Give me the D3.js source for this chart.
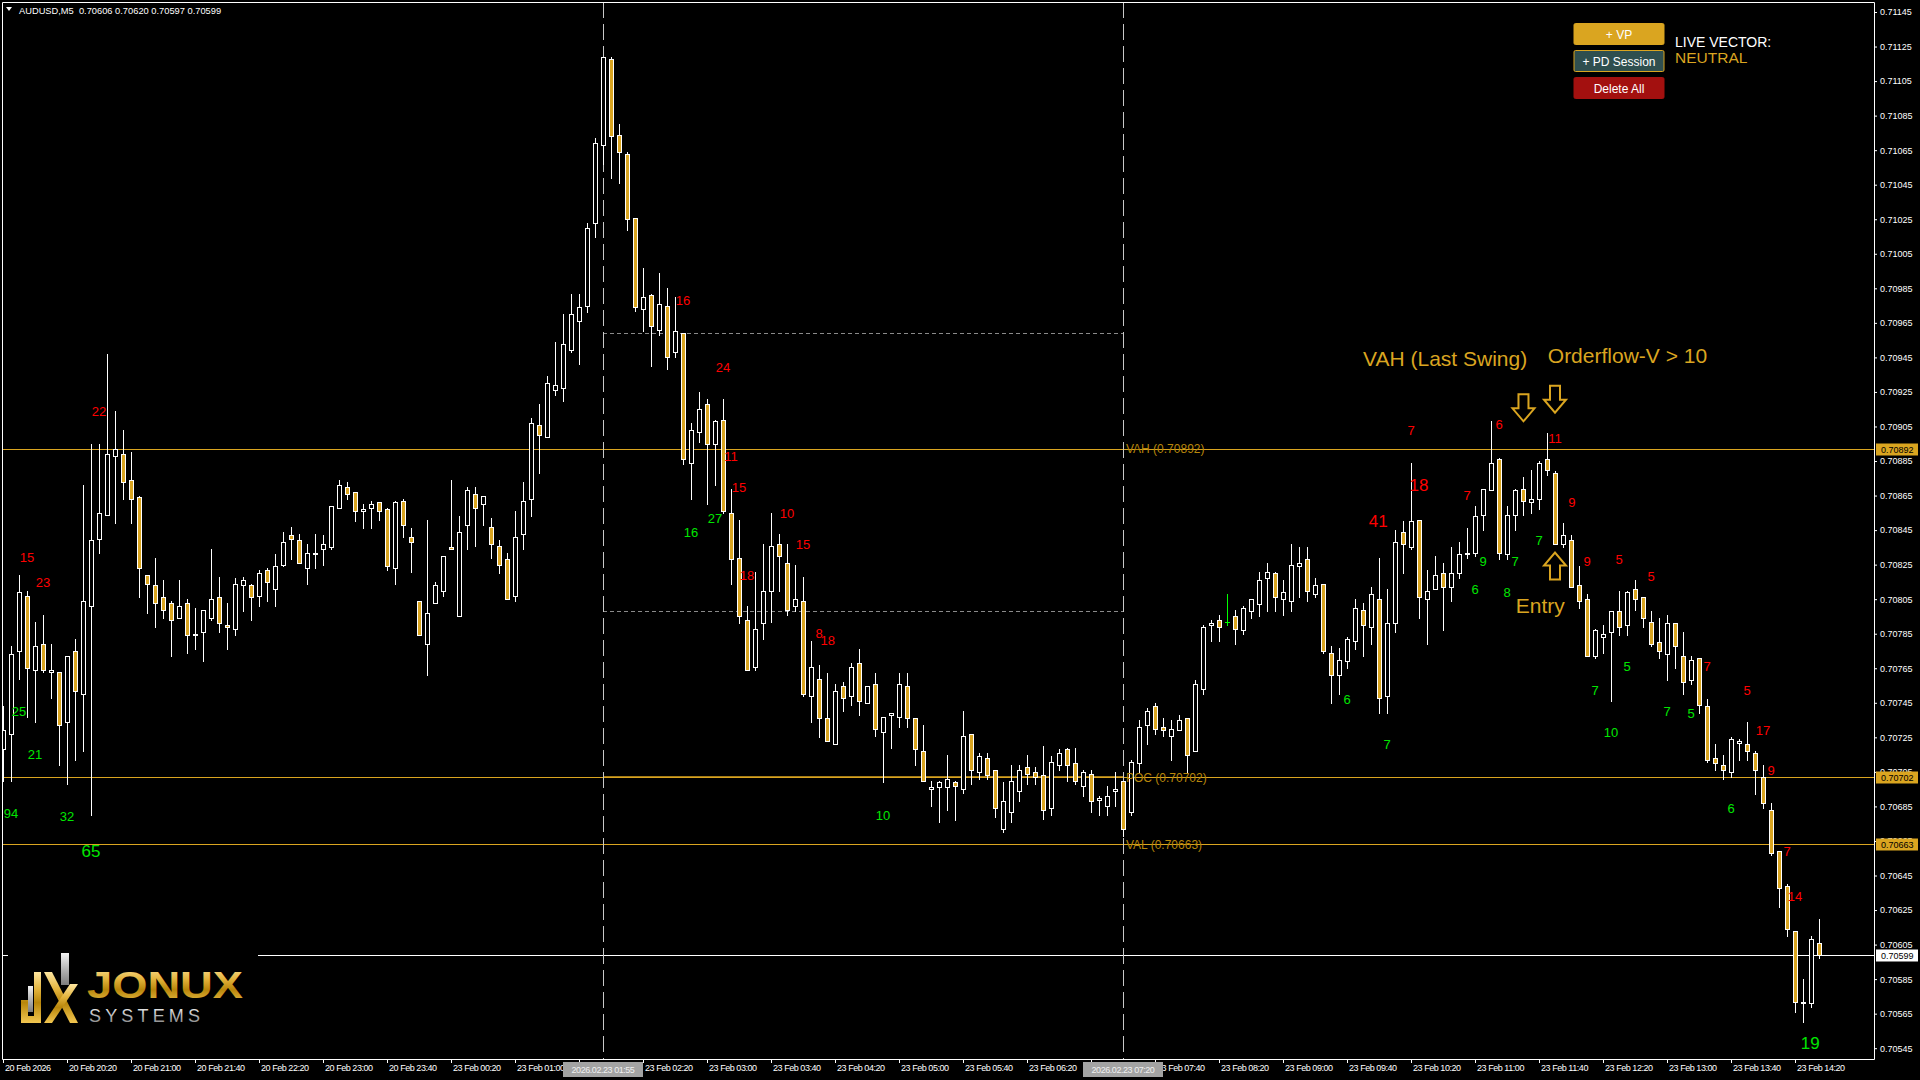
<!DOCTYPE html>
<html><head><meta charset="utf-8">
<script src="https://cdn.jsdelivr.net/npm/d3@7"></script>
<style>
html,body{margin:0;padding:0;background:#000;overflow:hidden}
text{font-family:"Liberation Sans",Arial,sans-serif}
</style>
</head><body>
<svg id="c" width="1920" height="1080"></svg>
<script>
// ---------------- DATA ----------------
const symbol = "AUDUSD,M5";
const opens = [
0.70718,0.70727,0.70775,0.70807,0.70764,0.70779,0.70763,0.70763,0.70734,0.70775,
0.70750,0.70801,0.70840,0.70854,0.70888,0.70889,0.70874,0.70864,0.70819,0.70813,
0.70806,0.70803,0.70794,0.70803,0.70784,0.70786,0.70794,0.70806,0.70790,0.70788,
0.70813,0.70813,0.70807,0.70822,0.70811,0.70825,0.70842,0.70839,0.70823,0.70831,
0.70834,0.70835,0.70858,0.70870,0.70867,0.70856,0.70858,0.70861,0.70857,0.70823,
0.70862,0.70841,0.70804,0.70779,0.70803,0.70810,0.70835,0.70795,0.70848,0.70866,
0.70860,0.70847,0.70836,0.70828,0.70807,0.70843,0.70863,0.70906,0.70899,0.70926,
0.70927,0.70949,0.70966,0.70975,0.71023,0.71068,0.71118,0.71074,0.71063,0.71026,
0.70973,0.70981,0.70961,0.70975,0.70948,0.70959,0.70884,0.70902,0.70918,0.70895,
0.70909,0.70855,0.70829,0.70793,0.70766,0.70791,0.70810,0.70837,0.70826,0.70801,
0.70804,0.70749,0.70759,0.70736,0.70721,0.70755,0.70749,0.70768,0.70745,0.70756,
0.70728,0.70738,0.70737,0.70755,0.70736,0.70717,0.70695,0.70696,0.70696,0.70699,
0.70695,0.70727,0.70705,0.70713,0.70706,0.70672,0.70682,0.70694,0.70708,0.70705,
0.70703,0.70684,0.70709,0.70718,0.70710,0.70697,0.70704,0.70689,0.70685,0.70694,
0.70700,0.70682,0.70710,0.70732,0.70743,0.70731,0.70726,0.70729,0.70736,0.70717,
0.70753,0.70790,0.70793,0.70792,0.70795,0.70787,0.70798,0.70802,0.70817,0.70820,
0.70805,0.70804,0.70824,0.70828,0.70808,0.70814,0.70774,0.70761,0.70769,0.70781,
0.70799,0.70789,0.70805,0.70749,0.70791,0.70844,0.70835,0.70851,0.70805,0.70811,
0.70820,0.70812,0.70820,0.70831,0.70832,0.70854,0.70868,0.70886,0.70831,0.70854,
0.70869,0.70861,0.70863,0.70886,0.70878,0.70837,0.70839,0.70813,0.70805,0.70772,
0.70783,0.70786,0.70798,0.70790,0.70811,0.70806,0.70792,0.70780,0.70773,0.70791,
0.70772,0.70758,0.70771,0.70743,0.70713,0.70709,0.70705,0.70722,0.70721,0.70716,
0.70702,0.70683,0.70659,0.70639,0.70613,0.70571,0.70571,0.70606];
const highs = [
0.70743,0.70778,0.70819,0.70810,0.70792,0.70796,0.70779,0.70763,0.70772,0.70782,
0.70871,0.70895,0.70895,0.70947,0.70914,0.70903,0.70890,0.70865,0.70819,0.70829,
0.70816,0.70804,0.70816,0.70805,0.70800,0.70799,0.70834,0.70818,0.70803,0.70817,
0.70818,0.70814,0.70822,0.70823,0.70831,0.70844,0.70847,0.70843,0.70837,0.70843,
0.70842,0.70859,0.70874,0.70873,0.70867,0.70860,0.70862,0.70861,0.70858,0.70862,
0.70863,0.70846,0.70804,0.70851,0.70815,0.70830,0.70874,0.70853,0.70870,0.70870,
0.70865,0.70852,0.70839,0.70832,0.70856,0.70873,0.70910,0.70918,0.70934,0.70954,
0.70970,0.70982,0.70982,0.71023,0.71072,0.71119,0.71119,0.71080,0.71064,0.71026,
0.70997,0.70982,0.70994,0.70985,0.70980,0.70959,0.70907,0.70925,0.70921,0.70909,
0.70921,0.70869,0.70851,0.70801,0.70821,0.70837,0.70855,0.70843,0.70837,0.70825,
0.70818,0.70781,0.70767,0.70762,0.70756,0.70757,0.70768,0.70776,0.70755,0.70762,
0.70737,0.70739,0.70762,0.70762,0.70736,0.70732,0.70700,0.70700,0.70715,0.70700,
0.70740,0.70727,0.70716,0.70716,0.70706,0.70699,0.70709,0.70709,0.70715,0.70708,
0.70720,0.70714,0.70718,0.70719,0.70719,0.70706,0.70706,0.70691,0.70697,0.70705,
0.70700,0.70712,0.70735,0.70742,0.70745,0.70736,0.70735,0.70738,0.70736,0.70758,
0.70790,0.70793,0.70796,0.70808,0.70799,0.70801,0.70805,0.70821,0.70826,0.70821,
0.70816,0.70837,0.70835,0.70835,0.70817,0.70814,0.70778,0.70777,0.70783,0.70805,
0.70803,0.70812,0.70829,0.70811,0.70845,0.70850,0.70884,0.70851,0.70822,0.70830,
0.70826,0.70835,0.70838,0.70846,0.70859,0.70869,0.70908,0.70887,0.70859,0.70869,
0.70876,0.70880,0.70885,0.70901,0.70879,0.70849,0.70842,0.70824,0.70808,0.70788,
0.70790,0.70798,0.70810,0.70810,0.70816,0.70806,0.70798,0.70794,0.70796,0.70791,
0.70786,0.70772,0.70771,0.70747,0.70721,0.70715,0.70725,0.70724,0.70734,0.70717,
0.70709,0.70687,0.70659,0.70640,0.70613,0.70585,0.70610,0.70620];
const lows = [
0.70700,0.70700,0.70759,0.70737,0.70734,0.70763,0.70748,0.70709,0.70698,0.70712,
0.70717,0.70680,0.70832,0.70854,0.70849,0.70863,0.70849,0.70806,0.70797,0.70789,
0.70794,0.70772,0.70794,0.70774,0.70776,0.70769,0.70793,0.70786,0.70776,0.70784,
0.70798,0.70793,0.70801,0.70804,0.70801,0.70824,0.70828,0.70826,0.70814,0.70823,
0.70825,0.70834,0.70858,0.70863,0.70850,0.70846,0.70846,0.70851,0.70822,0.70814,
0.70841,0.70821,0.70784,0.70761,0.70803,0.70807,0.70834,0.70795,0.70834,0.70836,
0.70848,0.70829,0.70820,0.70805,0.70804,0.70834,0.70853,0.70878,0.70899,0.70923,
0.70920,0.70948,0.70941,0.70971,0.71015,0.71057,0.71049,0.71046,0.71019,0.70972,
0.70960,0.70940,0.70958,0.70938,0.70945,0.70883,0.70863,0.70896,0.70860,0.70871,
0.70855,0.70814,0.70791,0.70764,0.70764,0.70782,0.70792,0.70810,0.70796,0.70798,
0.70749,0.70734,0.70725,0.70723,0.70721,0.70740,0.70744,0.70738,0.70745,0.70726,
0.70699,0.70719,0.70731,0.70731,0.70709,0.70700,0.70685,0.70676,0.70683,0.70677,
0.70693,0.70698,0.70701,0.70701,0.70679,0.70670,0.70676,0.70688,0.70698,0.70698,
0.70678,0.70680,0.70706,0.70700,0.70698,0.70691,0.70682,0.70680,0.70680,0.70685,
0.70668,0.70680,0.70705,0.70721,0.70727,0.70726,0.70712,0.70729,0.70705,0.70717,
0.70750,0.70781,0.70781,0.70790,0.70779,0.70785,0.70794,0.70795,0.70798,0.70798,
0.70796,0.70798,0.70806,0.70804,0.70806,0.70774,0.70745,0.70750,0.70765,0.70776,
0.70772,0.70779,0.70739,0.70739,0.70786,0.70820,0.70834,0.70794,0.70779,0.70811,
0.70787,0.70804,0.70817,0.70829,0.70830,0.70845,0.70868,0.70828,0.70828,0.70845,
0.70854,0.70855,0.70857,0.70877,0.70837,0.70835,0.70812,0.70800,0.70772,0.70771,
0.70774,0.70746,0.70784,0.70784,0.70799,0.70789,0.70778,0.70771,0.70758,0.70765,
0.70750,0.70756,0.70739,0.70711,0.70706,0.70701,0.70702,0.70712,0.70712,0.70692,
0.70684,0.70657,0.70627,0.70610,0.70566,0.70560,0.70569,0.70597];
const closes = [
0.70729,0.70773,0.70809,0.70765,0.70778,0.70764,0.70764,0.70732,0.70772,0.70752,
0.70804,0.70839,0.70855,0.70889,0.70892,0.70873,0.70863,0.70823,0.70814,0.70803,
0.70799,0.70793,0.70801,0.70784,0.70785,0.70799,0.70805,0.70791,0.70789,0.70814,
0.70816,0.70806,0.70820,0.70815,0.70824,0.70838,0.70840,0.70826,0.70832,0.70832,
0.70837,0.70859,0.70871,0.70866,0.70856,0.70857,0.70860,0.70856,0.70824,0.70861,
0.70848,0.70838,0.70784,0.70797,0.70813,0.70830,0.70834,0.70844,0.70868,0.70858,
0.70865,0.70837,0.70825,0.70805,0.70841,0.70862,0.70907,0.70900,0.70930,0.70929,
0.70953,0.70970,0.70974,0.71020,0.71069,0.71119,0.71073,0.71064,0.71025,0.70974,
0.70980,0.70963,0.70976,0.70945,0.70960,0.70886,0.70903,0.70915,0.70895,0.70908,
0.70856,0.70828,0.70795,0.70764,0.70788,0.70810,0.70836,0.70830,0.70799,0.70805,
0.70750,0.70766,0.70736,0.70723,0.70752,0.70748,0.70766,0.70746,0.70755,0.70730,
0.70737,0.70739,0.70756,0.70736,0.70718,0.70700,0.70696,0.70699,0.70701,0.70697,
0.70726,0.70706,0.70714,0.70703,0.70684,0.70688,0.70700,0.70706,0.70704,0.70702,
0.70683,0.70711,0.70716,0.70709,0.70700,0.70705,0.70688,0.70690,0.70691,0.70695,
0.70672,0.70711,0.70731,0.70740,0.70730,0.70729,0.70730,0.70735,0.70715,0.70756,
0.70789,0.70791,0.70789,0.70792,0.70788,0.70800,0.70805,0.70816,0.70821,0.70806,
0.70809,0.70825,0.70826,0.70810,0.70813,0.70775,0.70761,0.70770,0.70782,0.70800,
0.70790,0.70808,0.70748,0.70791,0.70838,0.70837,0.70850,0.70806,0.70810,0.70819,
0.70812,0.70820,0.70831,0.70832,0.70853,0.70869,0.70884,0.70832,0.70854,0.70868,
0.70862,0.70863,0.70884,0.70880,0.70837,0.70842,0.70812,0.70804,0.70772,0.70787,
0.70785,0.70798,0.70789,0.70809,0.70805,0.70794,0.70779,0.70775,0.70791,0.70778,
0.70757,0.70770,0.70744,0.70712,0.70710,0.70706,0.70724,0.70723,0.70717,0.70706,
0.70687,0.70658,0.70638,0.70614,0.70572,0.70572,0.70608,0.70599];

// time axis: labelled bars (every 8th M5 bar) and their labels
const xTickBars = [0,8,16,24,32,40,48,56,64,72,80,88,96,104,112,120,128,136,144,152,160,168,176,184,192,200,208,216,224];
const xTickLabels = ["20 Feb 2026","20 Feb 20:20","20 Feb 21:00","20 Feb 21:40","20 Feb 22:20","20 Feb 23:00","20 Feb 23:40",
 "23 Feb 00:20","23 Feb 01:00","23 Feb 01:40","23 Feb 02:20","23 Feb 03:00","23 Feb 03:40","23 Feb 04:20","23 Feb 05:00",
 "23 Feb 05:40","23 Feb 06:20","23 Feb 07:00","23 Feb 07:40","23 Feb 08:20","23 Feb 09:00","23 Feb 09:40","23 Feb 10:20",
 "23 Feb 11:00","23 Feb 11:40","23 Feb 12:20","23 Feb 13:00","23 Feb 13:40","23 Feb 14:20"];
// price axis tick values
const yTickValues = [0.71145,0.71125,0.71105,0.71085,0.71065,0.71045,0.71025,0.71005,0.70985,0.70965,0.70945,
 0.70925,0.70905,0.70885,0.70865,0.70845,0.70825,0.70805,0.70785,0.70765,0.70745,0.70725,0.70705,0.70685,
 0.70665,0.70645,0.70625,0.70605,0.70585,0.70565,0.70545];
const priceDomain = [0.70545, 0.71145];

// volume profile session (vertical markers) and levels
const sessionBars = [75, 140];
const sessionLabels = ["2026.02.23 01:55","2026.02.23 07:20"];
const sessionRangeLevels = [0.70959, 0.70798];
const vaNames = ["VAH","POC","VAL"];
const vaLevels = [0.70892, 0.70702, 0.70663];

// order-flow numbers
const flowTexts = ["22","15","23","25","21","94","32","65","16","24","11","15","10","15","18","8","18","16","27","10",
 "7","18","41","6","7","6","11","7","9","9","7","7","6","8","9","5","5","5","7","10","7","7","5","5","17","9","6","7","14","19"];
const flowBars = [12,3,5,2,4,1,8,11,85,90,91,92,98,100,93,102,103.1,86,89,110,
 176,177,171.9,168,173,187,194,183,196.1,185,189,192,184,188,198,202,206,203,199,201,213,208,211,218,220,221,216,223,224,225.9];
const flowPrices = [0.70914,0.70829,0.70815,0.70740,0.70715,0.70681,0.70679,0.70659,0.70978,0.70939,0.70888,0.70870,0.70855,0.70837,0.70819,0.70785,0.70781,0.70844,0.70852,0.70680,
 0.70903,0.70871,0.70850,0.70747,0.70721,0.70906,0.70898,0.70865,0.70861,0.70827,0.70827,0.70839,0.70811,0.70809,0.70827,0.70828,0.70818,0.70766,0.70752,0.70728,
 0.70766,0.70740,0.70739,0.70752,0.70729,0.70706,0.70684,0.70659,0.70633,0.70548];
const flowSides = ["sell","sell","sell","buy","buy","buy","buy","buy","sell","sell","sell","sell","sell","sell","sell","sell","sell","buy","buy","buy",
 "sell","sell","sell","buy","buy","sell","sell","sell","sell","buy","buy","buy","buy","buy","sell","sell","sell","buy","buy","buy",
 "sell","buy","buy","sell","sell","sell","buy","sell","sell","buy"];

// annotations
const noteTexts = ["VAH (Last Swing)","Orderflow-V > 10","Entry"];
const noteBars = [170, 193.1, 189.1];
const notePrices = [0.70940, 0.70942, 0.70797];
const arrowBars = [190.06, 194, 194];
const arrowTipPrices = [0.70908, 0.70913, 0.70832];
const arrowDirs = ["down","down","up"];

const buttonLabels = ["+ VP","+ PD Session","Delete All"];
const vectorTitle = "LIVE VECTOR:";
const vectorState = "NEUTRAL";

// ---------------- DRAW ----------------
const GOLD = "#DAA520";
const svg = d3.select("#c");
const n = opens.length;
const x = d3.scaleLinear().domain([0, n - 1]).range([3, 3 + 8 * (n - 1)]);
const y = d3.scaleLinear().domain(priceDomain).range([1048.2, 12]);
const plotL = 2, plotR = 1874, plotT = 2, plotB = 1059;
const px = v => Math.round(x(v));
const py = v => Math.round(y(v));

svg.append("rect").attr("width",1920).attr("height",1080).attr("fill","#000");

const defs = svg.append("defs");
defs.append("clipPath").attr("id","plotclip").append("rect")
  .attr("x",plotL+1).attr("y",plotT+1).attr("width",plotR-plotL-1).attr("height",plotB-plotT-1);
const plot = svg.append("g").attr("clip-path","url(#plotclip)");

// session dotted range lines
plot.selectAll("line.rng").data(sessionRangeLevels).join("line")
  .attr("x1",px(sessionBars[0])).attr("x2",px(sessionBars[1]))
  .attr("y1",d=>py(d)+0.5).attr("y2",d=>py(d)+0.5)
  .attr("stroke","#8a8a8a").attr("stroke-width",1).attr("stroke-dasharray","4,3");

// value area lines
plot.selectAll("line.va").data(vaLevels).join("line")
  .attr("x1",plotL).attr("x2",plotR)
  .attr("y1",d=>py(d)+0.5).attr("y2",d=>py(d)+0.5)
  .attr("stroke",GOLD).attr("stroke-width",1);
plot.append("line").attr("x1",px(sessionBars[0])).attr("x2",px(sessionBars[1]))
  .attr("y1",py(vaLevels[1])).attr("y2",py(vaLevels[1])).attr("stroke",GOLD).attr("stroke-width",1.5);

// last price line
const lastClose = closes[n-1];
plot.append("line").attr("x1",plotL).attr("x2",plotR)
  .attr("y1",py(lastClose)+0.5).attr("y2",py(lastClose)+0.5).attr("stroke","#fff").attr("stroke-width",1);

// vertical session lines
plot.selectAll("line.ses").data(sessionBars).join("line")
  .attr("x1",d=>px(d)+0.5).attr("x2",d=>px(d)+0.5).attr("y1",plotT).attr("y2",plotB)
  .attr("stroke","#c8c8c8").attr("stroke-width",1).attr("stroke-dasharray","16,6");

// candles
const idx = d3.range(n);
const cg = plot.append("g");
cg.selectAll("line.w").data(idx).join("line")
  .attr("x1",i=>px(i)+0.5).attr("x2",i=>px(i)+0.5)
  .attr("y1",i=>py(highs[i])).attr("y2",i=>py(lows[i])+1)
  .attr("stroke",i=>opens[i]===closes[i] ? "#00ff00" : "#fff").attr("stroke-width",1);
cg.selectAll("rect.b").data(idx.filter(i=>opens[i]!==closes[i])).join("rect")
  .attr("x",i=>px(i)-1.5).attr("width",4)
  .attr("y",i=>py(Math.max(opens[i],closes[i]))+0.5)
  .attr("height",i=>Math.max(1, py(Math.min(opens[i],closes[i])) - py(Math.max(opens[i],closes[i]))))
  .attr("fill",i=>closes[i]>opens[i] ? "#000" : GOLD)
  .attr("stroke","#fff").attr("stroke-width",1);
cg.selectAll("line.d").data(idx.filter(i=>opens[i]===closes[i])).join("line")
  .attr("x1",i=>px(i)-2).attr("x2",i=>px(i)+3)
  .attr("y1",i=>py(opens[i])+0.5).attr("y2",i=>py(opens[i])+0.5)
  .attr("stroke","#00ff00").attr("stroke-width",1);

// value-area text labels
plot.selectAll("text.va").data(vaLevels).join("text")
  .attr("x",px(sessionBars[1])+3).attr("y",d=>y(d)+4.5)
  .attr("font-size",12).attr("fill","#B8860B")
  .text((d,i)=>`${vaNames[i]} (${d.toFixed(5)})`);

// order-flow numbers
const bigFlow = new Set([7,21,22,49]);
plot.selectAll("text.flow").data(flowTexts).join("text")
  .attr("x",(d,i)=>x(flowBars[i]))
  .attr("y",(d,i)=>y(flowPrices[i]) + (bigFlow.has(i)?6:4.7))
  .attr("text-anchor","middle")
  .attr("font-size",(d,i)=>bigFlow.has(i)?17:13)
  .attr("fill",(d,i)=>flowSides[i]==="sell" ? "#ff0000" : "#00e600")
  .text(d=>d);

// annotations
plot.selectAll("text.note").data(noteTexts).join("text")
  .attr("x",(d,i)=>x(noteBars[i])).attr("y",(d,i)=>y(notePrices[i]))
  .attr("font-size",21).attr("fill",GOLD).text(d=>d);
function arrowPath(tx, ty, dir){
  const s = dir==="down" ? -1 : 1;
  const pts = [[tx-5,ty+s*27],[tx+5,ty+s*27],[tx+5,ty+s*13],[tx+11,ty+s*13],[tx,ty],[tx-11,ty+s*13],[tx-5,ty+s*13]];
  return "M"+pts.map(p=>p.join(",")).join("L")+"Z";
}
plot.selectAll("path.arrow").data(arrowDirs).join("path")
  .attr("d",(d,i)=>arrowPath(x(arrowBars[i]), y(arrowTipPrices[i]), d))
  .attr("fill","none").attr("stroke",GOLD).attr("stroke-width",2).attr("stroke-linejoin","miter");

// logo
const gGold = defs.append("linearGradient").attr("id","gold").attr("x1",0).attr("x2",0).attr("y1",0).attr("y2",1);
[[0,"#FFE7A0"],[0.35,"#E2B23A"],[0.6,"#B8860B"],[1,"#F2C650"]].forEach(s=>gGold.append("stop").attr("offset",s[0]).attr("stop-color",s[1]));
const gSil = defs.append("linearGradient").attr("id","silver").attr("x1",0).attr("x2",0).attr("y1",0).attr("y2",1);
[[0,"#f4f4f4"],[0.5,"#b5b5b5"],[1,"#7d7d7d"]].forEach(s=>gSil.append("stop").attr("offset",s[0]).attr("stop-color",s[1]));
const logo = svg.append("g");
logo.append("rect").attr("x",8).attr("y",935).attr("width",250).attr("height",110).attr("fill","#000");
logo.append("path").attr("d","M21,1000H28V1016H34V972H41V1023H21Z").attr("fill","url(#gold)");
logo.append("rect").attr("x",28).attr("y",986).attr("width",5).attr("height",26).attr("fill","url(#silver)");
logo.append("path").attr("d","M44,972H52L78,1023H70Z").attr("fill","url(#gold)");
logo.append("path").attr("d","M70,984H78L52,1023H44Z").attr("fill","url(#gold)");
logo.append("rect").attr("x",61).attr("y",953).attr("width",8).attr("height",32).attr("fill","url(#silver)");
logo.append("text").attr("x",87).attr("y",998).attr("font-size",37).attr("font-weight",700)
  .attr("textLength",156).attr("lengthAdjust","spacingAndGlyphs").attr("fill","url(#gold)").text("JONUX");
logo.append("text").attr("x",89).attr("y",1022).attr("font-size",18)
  .attr("textLength",111).attr("lengthAdjust","spacing").attr("fill","url(#silver)").text("SYSTEMS");

// border
svg.append("path").attr("d",`M${plotL+0.5},${plotB+0.5}V${plotT+0.5}H${plotR+0.5}V${plotB+0.5}H${plotL+0.5}`)
  .attr("fill","none").attr("stroke","#fff").attr("stroke-width",1);

// price axis
const yAxis = d3.axisRight(y).tickValues(yTickValues).tickFormat(d3.format(".5f")).tickSize(3).tickPadding(3);
svg.append("g").attr("transform",`translate(${plotR},0)`).call(yAxis)
  .attr("font-family","Liberation Sans, Arial, sans-serif").attr("font-size",9)
  .call(g=>g.select(".domain").remove())
  .call(g=>g.selectAll("line").attr("stroke","#fff"))
  .call(g=>g.selectAll("text").attr("fill","#fff"));

// time axis (labels hidden under a session time box are not drawn, as on the terminal)
const tickLabelOf = new Map(xTickBars.map((b,i)=>[b, xTickLabels[i]]));
const hiddenUnderBox = b => sessionBars.some(s => x(b) > x(s) - 40 && x(b) < x(s));
const xAxis = d3.axisBottom(x).tickValues(xTickBars)
  .tickFormat(d=>hiddenUnderBox(d) ? "" : tickLabelOf.get(d)).tickSize(4).tickPadding(2);
svg.append("g").attr("transform",`translate(0,${plotB})`).call(xAxis)
  .attr("font-family","Liberation Sans, Arial, sans-serif").attr("font-size",9)
  .call(g=>g.select(".domain").remove())
  .call(g=>g.selectAll("line").attr("stroke","#fff"))
  .call(g=>g.selectAll("text").attr("fill","#fff").attr("text-anchor","start").attr("x",1.5).attr("letter-spacing",-0.45));

// session time boxes on the time axis
const sb = svg.selectAll("g.sb").data(sessionBars).join("g").attr("transform",d=>`translate(${px(d)},${plotB})`);
sb.append("rect").attr("x",-40).attr("y",3).attr("width",80).attr("height",15).attr("fill","#a3a3a3");
sb.append("text").attr("x",0).attr("y",14).attr("text-anchor","middle").attr("font-size",9)
  .attr("letter-spacing",-0.45).attr("fill","#f0f0f0").text((d,i)=>sessionLabels[i]);

// price boxes on the price axis
const boxes = vaLevels.map(v=>({v, bg:GOLD})).concat([{v:lastClose, bg:"#fff"}]);
const pb = svg.selectAll("g.pb").data(boxes).join("g").attr("transform",d=>`translate(${plotR+1},${py(d.v)})`);
pb.append("rect").attr("x",1).attr("y",-5.5).attr("width",42).attr("height",12).attr("fill",d=>d.bg);
pb.append("text").attr("x",6).attr("y",4).attr("font-size",9).attr("fill","#000").text(d=>d.v.toFixed(5));

// header
svg.append("path").attr("d","M6,7H12L9,11Z").attr("fill","#fff");
svg.append("text").attr("x",19).attr("y",13.5).attr("font-size",9.3).attr("fill","#fff").style("white-space","pre")
  .text(`${symbol}  ${opens[n-1].toFixed(5)} ${highs[n-1].toFixed(5)} ${lows[n-1].toFixed(5)} ${closes[n-1].toFixed(5)}`);

// buttons panel
const btnFill = [GOLD,"#2F4F4F","#A3100F"];
const btnStroke = [GOLD,GOLD,"#A3100F"];
const btnY = [23.5,50.5,77.5];
const bt = svg.selectAll("g.btn").data(buttonLabels).join("g").attr("transform",(d,i)=>`translate(1574,${btnY[i]})`);
bt.append("rect").attr("width",90).attr("height",21).attr("rx",1.5)
  .attr("fill",(d,i)=>btnFill[i]).attr("stroke",(d,i)=>btnStroke[i]).attr("stroke-width",1);
bt.append("text").attr("x",45).attr("y",15).attr("text-anchor","middle").attr("font-size",12).attr("fill","#fff").text(d=>d);
svg.append("text").attr("x",1675).attr("y",46.5).attr("font-size",14).attr("fill","#fff").text(vectorTitle);
svg.append("text").attr("x",1675).attr("y",63).attr("font-size",15.5).attr("fill",GOLD).text(vectorState);
</script>
</body></html>
